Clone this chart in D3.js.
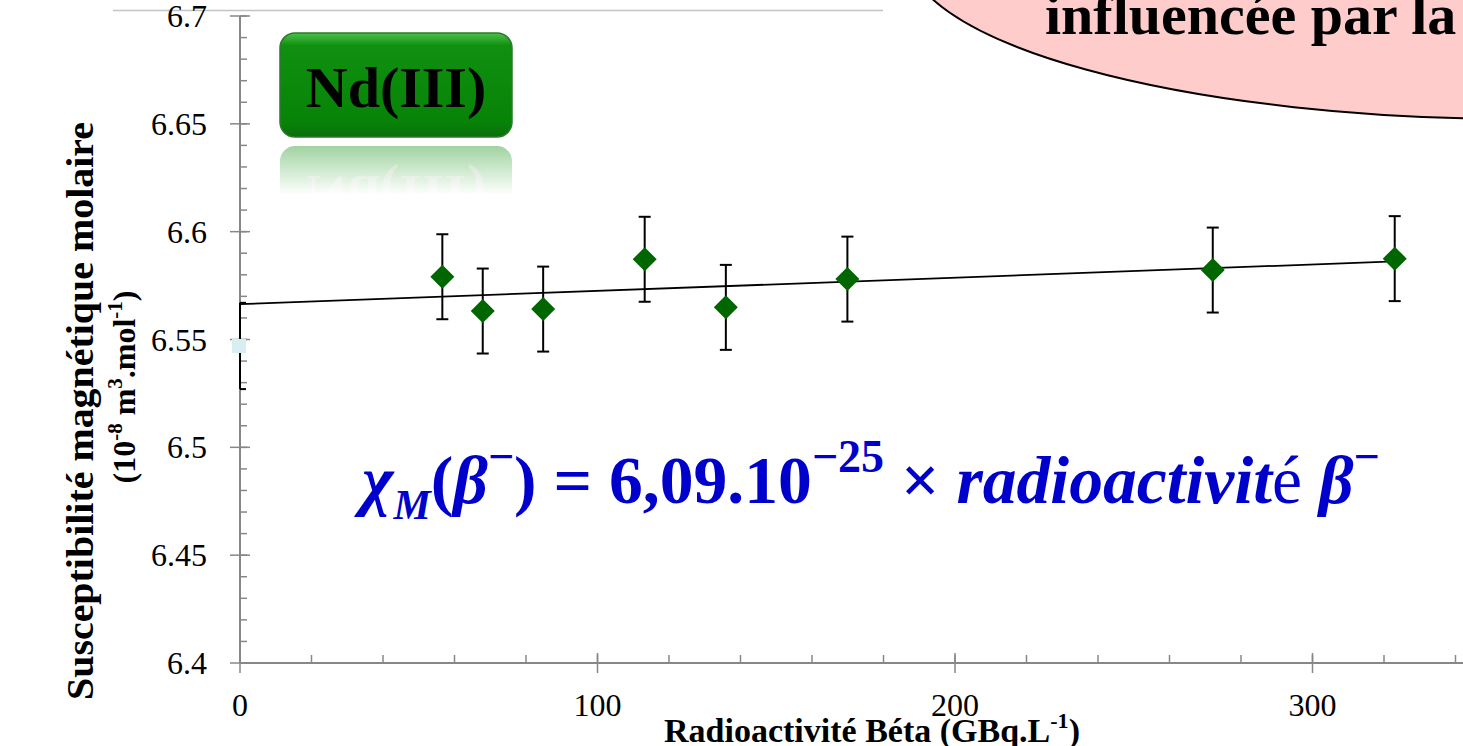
<!DOCTYPE html>
<html>
<head>
<meta charset="utf-8">
<script src="https://cdn.jsdelivr.net/npm/d3@7"></script>
<style>
body { margin: 0; background: #fff; overflow: hidden; }
svg { display: block; }
</style>
</head>
<body>
<script>
// data
var activity = [56.6, 67.9, 84.8, 113.2, 135.9, 169.9, 272.1, 323.0];   // GBq/L
var chiM     = [6.5791, 6.5632, 6.5641, 6.5872, 6.5649, 6.5780, 6.5822, 6.5875];
var chiErr   = [0.0197, 0.0197, 0.0197, 0.0197, 0.0197, 0.0197, 0.0197, 0.0197];
var refActivity = [0];
var refChi      = [6.547];
var refErr      = [0.02];
var xMajor = [0, 100, 200, 300];
var yMajor = [6.4, 6.45, 6.5, 6.55, 6.6, 6.65, 6.7];
var yLabels = ["6.4", "6.45", "6.5", "6.55", "6.6", "6.65", "6.7"];

var W = 1463, H = 746;
var serif = "'Liberation Serif', 'Times New Roman', serif";
var axisCol = "#878787";

var svg = d3.select("body").append("svg")
        .attr("width", W)
        .attr("height", H);

var defs = svg.append("defs");

var x = d3.scaleLinear().domain([0, 350]).range([240, 1491.25]);
var y = d3.scaleLinear().domain([6.4, 6.7]).range([663, 16]);

// top border line of the chart area
svg.append("line")
        .attr("x1", 113).attr("x2", 883)
        .attr("y1", 10.5).attr("y2", 10.5)
        .attr("stroke", "#c4c4c4")
        .attr("stroke-width", 1.5);

// ---- y axis ----
var yMinor = d3.range(6.4, 6.7001, 0.01);
svg.selectAll(".yminor").data(yMinor).enter().append("line")
        .attr("x1", 240).attr("x2", 247)
        .attr("y1", function(d) { return y(d); })
        .attr("y2", function(d) { return y(d); })
        .attr("stroke", axisCol).attr("stroke-width", 1.5);
svg.selectAll(".ymajor").data(yMajor).enter().append("line")
        .attr("x1", 230).attr("x2", 250)
        .attr("y1", function(d) { return y(d); })
        .attr("y2", function(d) { return y(d); })
        .attr("stroke", axisCol).attr("stroke-width", 1.5);
svg.append("line")
        .attr("x1", 240).attr("x2", 240)
        .attr("y1", y(6.7)).attr("y2", y(6.4))
        .attr("stroke", axisCol).attr("stroke-width", 2);
svg.selectAll(".ylab").data(yMajor).enter().append("text")
        .attr("x", 207)
        .attr("y", function(d) { return y(d) + 11; })
        .attr("text-anchor", "end")
        .style("font-family", serif)
        .style("font-size", "32px")
        .text(function(d, i) { return yLabels[i]; });

// ---- x axis ----
var xMinor = d3.range(0, 341, 20);
svg.selectAll(".xminor").data(xMinor).enter().append("line")
        .attr("x1", function(d) { return x(d); })
        .attr("x2", function(d) { return x(d); })
        .attr("y1", 655).attr("y2", 663)
        .attr("stroke", axisCol).attr("stroke-width", 1.5);
svg.selectAll(".xmajor").data(xMajor).enter().append("line")
        .attr("x1", function(d) { return x(d); })
        .attr("x2", function(d) { return x(d); })
        .attr("y1", 653).attr("y2", 673)
        .attr("stroke", axisCol).attr("stroke-width", 1.5);
svg.append("line")
        .attr("x1", 240).attr("x2", W)
        .attr("y1", 663).attr("y2", 663)
        .attr("stroke", axisCol).attr("stroke-width", 2);
svg.selectAll(".xlab").data(xMajor).enter().append("text")
        .attr("x", function(d) { return x(d); })
        .attr("y", 716)
        .attr("text-anchor", "middle")
        .style("font-family", serif)
        .style("font-size", "32px")
        .text(function(d) { return d; });

// axis titles
var xt = svg.append("text")
        .attr("x", 872).attr("y", 742)
        .attr("text-anchor", "middle")
        .style("font-family", serif)
        .style("font-size", "34px")
        .style("font-weight", "bold");
xt.append("tspan").text("Radioactivité Béta (GBq.L");
xt.append("tspan").attr("dy", -14).style("font-size", "22px").text("-1");
xt.append("tspan").attr("dy", 14).text(")");

svg.append("text")
        .attr("transform", "translate(93,411) rotate(-90)")
        .attr("text-anchor", "middle")
        .attr("textLength", 578)
        .attr("lengthAdjust", "spacingAndGlyphs")
        .style("font-family", serif)
        .style("font-size", "38px")
        .style("font-weight", "bold")
        .text("Susceptibilité magnétique molaire");

var yt2 = svg.append("text")
        .attr("transform", "translate(135,387) rotate(-90)")
        .attr("text-anchor", "middle")
        .style("font-family", serif)
        .style("font-size", "32px")
        .style("font-weight", "bold");
yt2.append("tspan").text("(10");
yt2.append("tspan").attr("dy", -13).style("font-size", "21px").text("-8");
yt2.append("tspan").attr("dy", 13).text(" m");
yt2.append("tspan").attr("dy", -13).style("font-size", "21px").text("3");
yt2.append("tspan").attr("dy", 13).text(".mol");
yt2.append("tspan").attr("dy", -13).style("font-size", "21px").text("-1");
yt2.append("tspan").attr("dy", 13).text(")");

// ---- reference point at 0 (light square) ----
refActivity.forEach(function(a, i) {
    var cx = x(a);
    svg.append("line")
        .attr("x1", cx).attr("x2", cx)
        .attr("y1", y(refChi[i] + refErr[i])).attr("y2", y(refChi[i] - refErr[i]))
        .attr("stroke", "#000").attr("stroke-width", 2);
    [refChi[i] + refErr[i], refChi[i] - refErr[i]].forEach(function(v) {
        svg.append("line")
            .attr("x1", cx).attr("x2", cx + 6)
            .attr("y1", y(v)).attr("y2", y(v))
            .attr("stroke", "#000").attr("stroke-width", 2);
    });
    svg.append("rect")
        .attr("x", cx - 8).attr("y", y(refChi[i]) - 7)
        .attr("width", 14).attr("height", 14)
        .attr("fill", "#d9eef0");
});

// ---- linear trend line (least squares on the data) ----
var mx = d3.mean(activity), my = d3.mean(chiM);
var sxy = d3.sum(activity, function(a, i) { return (a - mx) * (chiM[i] - my); });
var sxx = d3.sum(activity, function(a) { return (a - mx) * (a - mx); });
var slope = sxy / sxx, icpt = my - slope * mx;
var xEnd = d3.max(activity);
svg.append("line")
        .attr("x1", x(0)).attr("y1", y(icpt))
        .attr("x2", x(xEnd)).attr("y2", y(icpt + slope * xEnd))
        .attr("stroke", "#000").attr("stroke-width", 1.8);

// ---- error bars + diamonds ----
var pts = activity.map(function(a, i) { return { a: a, v: chiM[i], e: chiErr[i] }; });
var eb = svg.selectAll(".eb").data(pts).enter().append("g");
eb.append("line")
        .attr("x1", function(d) { return x(d.a); })
        .attr("x2", function(d) { return x(d.a); })
        .attr("y1", function(d) { return y(d.v + d.e); })
        .attr("y2", function(d) { return y(d.v - d.e); })
        .attr("stroke", "#000").attr("stroke-width", 2);
eb.append("line")
        .attr("x1", function(d) { return x(d.a) - 6; })
        .attr("x2", function(d) { return x(d.a) + 6; })
        .attr("y1", function(d) { return y(d.v + d.e); })
        .attr("y2", function(d) { return y(d.v + d.e); })
        .attr("stroke", "#000").attr("stroke-width", 2);
eb.append("line")
        .attr("x1", function(d) { return x(d.a) - 6; })
        .attr("x2", function(d) { return x(d.a) + 6; })
        .attr("y1", function(d) { return y(d.v - d.e); })
        .attr("y2", function(d) { return y(d.v - d.e); })
        .attr("stroke", "#000").attr("stroke-width", 2);
eb.append("path")
        .attr("d", function(d) {
            var cx = x(d.a), cy = y(d.v), r = 12;
            return "M" + cx + "," + (cy - r) + "L" + (cx + r) + "," + cy +
                   "L" + cx + "," + (cy + r) + "L" + (cx - r) + "," + cy + "Z";
        })
        .attr("fill", "#006600");

// ---- Nd(III) badge ----
var g1 = defs.append("linearGradient").attr("id", "badge")
        .attr("x1", 0).attr("y1", 0).attr("x2", 0).attr("y2", 1);
g1.append("stop").attr("offset", "0%").attr("stop-color", "#4cc24c");
g1.append("stop").attr("offset", "12%").attr("stop-color", "#108f10");
g1.append("stop").attr("offset", "85%").attr("stop-color", "#078407");
g1.append("stop").attr("offset", "100%").attr("stop-color", "#0b6e0b");

var fade = defs.append("linearGradient").attr("id", "fade")
        .attr("x1", 0).attr("y1", 0).attr("x2", 0).attr("y2", 1);
fade.append("stop").attr("offset", "0%").attr("stop-color", "#fff").attr("stop-opacity", 0.4);
fade.append("stop").attr("offset", "100%").attr("stop-color", "#fff").attr("stop-opacity", 0);
defs.append("mask").attr("id", "fmask")
        .attr("maskUnits", "userSpaceOnUse")
        .attr("x", 270).attr("y", 140).attr("width", 260).attr("height", 70)
        .append("rect")
        .attr("x", 270).attr("y", 145).attr("width", 260).attr("height", 50)
        .attr("fill", "url(#fade)");

var reflOuter = svg.append("g").attr("mask", "url(#fmask)");
var refl = reflOuter.append("g")
        .attr("transform", "translate(0,283) scale(1,-1)");
refl.append("rect")
        .attr("x", 280).attr("y", 33).attr("width", 232).attr("height", 104)
        .attr("rx", 15).attr("fill", "#0e8f0e");
refl.append("text")
        .attr("x", 396).attr("y", 107)
        .attr("text-anchor", "middle")
        .style("font-family", serif).style("font-weight", "bold").style("font-size", "58px")
        .attr("fill", "#6a9a6a")
        .text("Nd(III)");

svg.append("rect")
        .attr("x", 280).attr("y", 33).attr("width", 232).attr("height", 104)
        .attr("rx", 15)
        .attr("fill", "url(#badge)")
        .attr("stroke", "#2b7a2b").attr("stroke-width", 1.5);
svg.append("text")
        .attr("x", 396).attr("y", 107)
        .attr("text-anchor", "middle")
        .style("font-family", serif).style("font-weight", "bold").style("font-size", "58px")
        .attr("fill", "#000")
        .text("Nd(III)");

// ---- pink callout ----
svg.append("ellipse")
        .attr("cx", 1520).attr("cy", -50).attr("rx", 614).attr("ry", 169)
        .attr("fill", "#ffcccc")
        .attr("stroke", "#000").attr("stroke-width", 2);
svg.append("text")
        .attr("x", 1045).attr("y", 34)
        .style("font-family", serif).style("font-weight", "bold").style("font-size", "58px")
        .text("influencée par la");

// ---- formula ----
var F = 44;
var fm = svg.append("text")
        .attr("x", 362).attr("y", 503)
        .attr("fill", "#0000cc")
        .style("font-family", serif)
        .style("font-weight", "bold");
function part(txt, italic, size, dy, weight) {
    fm.append("tspan")
        .attr("class", "fp")
        .attr("data-size", size)
        .attr("data-dy", dy)
        .style("font-style", italic ? "italic" : "normal")
        .style("font-weight", weight || "bold")
        .text(txt);
}
part("χ", true, 1, 0);
part("M", true, 0.62, 0.24);
part("(", false, 1, -0.24);
part("β", true, 1, 0);
part("−", false, 0.68, -0.46);
part(")", false, 1, 0.46);
part(" = 6,09.10", false, 1, 0);
part("−25", false, 0.68, -0.46);
part(" × ", false, 1, 0.46);
part("radioactivit", true, 1, 0);
part("é", false, 1, 0, "normal");
part(" β", true, 1, 0);
part("−", false, 0.68, -0.46);
function sizeFormula(f) {
    fm.selectAll(".fp")
        .style("font-size", function() { return (f * this.getAttribute("data-size")) + "px"; })
        .attr("dy", function() { return f * this.getAttribute("data-dy"); });
}
sizeFormula(F);
var wNow = fm.node().getComputedTextLength();
sizeFormula(F * 1018 / wNow);
</script>
</body>
</html>
